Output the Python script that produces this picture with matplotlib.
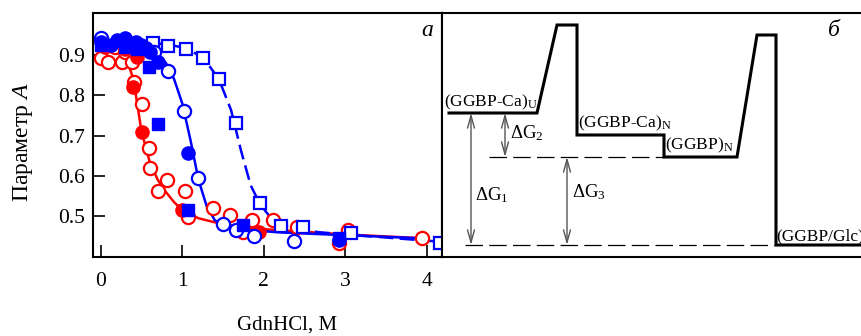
import matplotlib
matplotlib.use("Agg")
import matplotlib.pyplot as plt
import numpy as np

plt.rcParams['font.family'] = ['Liberation Serif', 'DejaVu Serif']
plt.rcParams['mathtext.fontset'] = 'custom'
plt.rcParams['mathtext.rm'] = 'Liberation Serif'
plt.rcParams['mathtext.it'] = 'Liberation Serif:italic'

RED = '#ff0000'
BLUE = '#0000ff'

# ================= panel a: denaturation curves =======================
# red, open circles
red_open_x = [0.0, 0.09, 0.18, 0.26, 0.30, 0.38, 0.41, 0.50, 0.59, 0.61, 0.70, 0.81, 1.03, 1.07,
              1.38, 1.59, 1.74, 1.86, 2.12, 2.41, 2.92, 3.04, 3.95]
red_open_y = [0.893, 0.883, 0.92, 0.883, 0.907, 0.883, 0.833, 0.778, 0.669, 0.619, 0.562, 0.589,
              0.562, 0.498, 0.52, 0.502, 0.46, 0.49, 0.49, 0.473, 0.433, 0.465, 0.445]
# red, filled circles
red_fill_x = [0.05, 0.30, 0.45, 0.40, 0.50, 1.00, 1.94]
red_fill_y = [0.92, 0.915, 0.895, 0.82, 0.709, 0.515, 0.46]
# red fit
red_line_x = [0.0, 0.2, 0.3, 0.4, 0.5, 0.6, 0.7, 0.8, 0.9, 1.0, 1.2, 1.5, 2.0, 3.0, 4.0]
red_line_y = [0.92, 0.915, 0.9, 0.84, 0.71, 0.635, 0.59, 0.56, 0.535, 0.515, 0.495, 0.48,
              0.468, 0.455, 0.445]

# blue, open circles
blue_open_x = [0.0, 0.65, 0.83, 1.02, 1.19, 1.50, 1.66, 1.88, 2.37]
blue_open_y = [0.942, 0.907, 0.86, 0.761, 0.594, 0.48, 0.465, 0.45, 0.438]
# blue, filled circles
blue_fill_x = [0.0, 0.12, 0.20, 0.30, 0.34, 0.43, 0.49, 0.55, 0.61, 0.70, 1.07, 2.92]
blue_fill_y = [0.932, 0.925, 0.937, 0.942, 0.93, 0.932, 0.925, 0.917, 0.907, 0.883, 0.657, 0.44]
# blue fit (solid)
blue_line_x = [0.0, 0.3, 0.6, 0.8, 0.9, 1.0, 1.1, 1.2, 1.3, 1.4, 1.55, 1.8, 2.2, 3.0, 4.0]
blue_line_y = [0.935, 0.932, 0.92, 0.88, 0.84, 0.78, 0.69, 0.59, 0.525, 0.49, 0.474, 0.466,
               0.46, 0.453, 0.445]

# blue, filled squares
blue_sq_fill_x = [0.0, 0.30, 0.45, 0.59, 0.70, 1.07, 1.75, 2.92]
blue_sq_fill_y = [0.925, 0.92, 0.915, 0.87, 0.729, 0.515, 0.478, 0.445]
# blue, open squares
blue_sq_open_x = [0.64, 0.83, 1.04, 1.26, 1.45, 1.66, 1.95, 2.21, 2.48, 3.07, 4.16]
blue_sq_open_y = [0.93, 0.922, 0.915, 0.893, 0.84, 0.731, 0.532, 0.475, 0.473, 0.458, 0.433]
# blue fit (dashed)
blue_dash_x = [0.64, 0.85, 1.04, 1.26, 1.45, 1.60, 1.72, 1.84, 1.95, 2.09, 2.33, 2.7, 3.2, 4.16]
blue_dash_y = [0.93, 0.925, 0.917, 0.893, 0.84, 0.763, 0.664, 0.577, 0.532, 0.495, 0.47,
               0.46, 0.452, 0.437]

# ================= panel b: energy diagram (schematic units) =======================
path_x = [7, 95, 115, 135, 135, 222, 222, 295, 315, 334, 334, 430]
path_y = [144, 144, 232, 232, 122, 122, 100, 100, 222, 222, 12, 12]
dash_levels = [(47, 222, 100), (23, 334, 12)]
arrows = [(29, 144, 12), (63, 144, 100), (125, 100, 12)]
level_labels = [(2, 145, '(GGBP-Ca)$_\\mathregular{U}$'),
                (136, 124, '(GGBP-Ca)$_\\mathregular{N}$'),
                (223, 102, '(GGBP)$_\\mathregular{N}$'),
                (334, 13, '(GGBP/Glc)')]
dg_labels = [(33, 62, '\u0394G$_\\mathregular{1}$'),
             (68, 124, '\u0394G$_\\mathregular{2}$'),
             (130, 65, '\u0394G$_\\mathregular{3}$')]

fig = plt.figure(figsize=(8.61, 3.36), dpi=100)
W, H = 861.0, 336.0
ax = fig.add_axes([93 / W, (H - 257) / H, (442 - 93) / W, (257 - 13) / H])
ax2 = fig.add_axes([442 / W, (H - 257) / H, (861 - 442) / W, (257 - 13) / H])

lw_fit = 1.8
ax.plot(red_line_x, red_line_y, color=RED, lw=lw_fit, zorder=2)
ax.plot(blue_line_x, blue_line_y, color=BLUE, lw=lw_fit, zorder=2)
ax.plot(blue_dash_x, blue_dash_y, color=BLUE, lw=lw_fit, dashes=(6, 2.5), zorder=2)

ms_c = 9.5
ms_s = 8.5
ax.plot(red_open_x, red_open_y, 'o', ms=ms_c, mfc='white', mec=RED, mew=1.6, ls='None', zorder=3)
ax.plot(red_fill_x, red_fill_y, 'o', ms=ms_c, mfc=RED, mec=RED, ls='None', zorder=3)
ax.plot(blue_sq_open_x, blue_sq_open_y, 's', ms=ms_s, mfc='white', mec=BLUE, mew=1.6, ls='None', zorder=3)
ax.plot(blue_open_x, blue_open_y, 'o', ms=ms_c, mfc='white', mec=BLUE, mew=1.6, ls='None', zorder=3)
ax.plot(blue_fill_x, blue_fill_y, 'o', ms=ms_c, mfc=BLUE, mec=BLUE, ls='None', zorder=4)
ax.plot(blue_sq_fill_x, blue_sq_fill_y, 's', ms=ms_s, mfc=BLUE, mec=BLUE, ls='None', zorder=4)

ax.set_xlim(-0.096, 4.19)
ax.set_ylim(0.399, 1.004)
ax.set_xticks([0, 1, 2, 3, 4])
ax.set_yticks([0.5, 0.6, 0.7, 0.8, 0.9])
ax.set_yticklabels(['0.5', '0.6', '0.7', '0.8', '0.9'])
ax.tick_params(direction='in', length=8.5, width=1.2, labelsize=15.5)
ax.tick_params(axis='x', pad=11)
ax.tick_params(axis='y', pad=6)
ax.tick_params(top=False, right=False)
for s in ax.spines.values():
    s.set_linewidth(1.5)
ax.set_xlabel('GdnHCl, M', fontsize=15, va='center', ha='center')
ax.xaxis.set_label_coords(287 / W, 1 - 325 / H, transform=fig.transFigure)
ax.set_ylabel('Параметр $\\mathit{A}$', fontsize=17, va='center', ha='center')
ax.yaxis.set_label_coords(23 / W, 1 - 142 / H, transform=fig.transFigure)
ax.text(0.975, 0.93, 'а', transform=ax.transAxes, fontsize=17, style='italic', ha='right', va='center')

# energy diagram
ax2.plot(path_x, path_y, color='black', lw=2.2, solid_joinstyle='miter', clip_on=True)
for x0, x1, y in dash_levels:
    ax2.plot([x0, x1], [y, y], color='black', lw=0.9, dashes=(14, 5))
for x, y0, y1 in arrows:
    ax2.annotate('', xy=(x, y1), xytext=(x, y0),
                 arrowprops=dict(arrowstyle='<->,head_length=0.9,head_width=0.25', color='#555555',
                                 lw=1.0, shrinkA=0, shrinkB=0))
for x, y, t in level_labels:
    ax2.text(x, y, t, fontsize=12.5, ha='left', va='bottom')
for x, y, t in dg_labels:
    ax2.text(x, y, t, fontsize=13.5, ha='left', va='center')
ax2.text(0.95, 0.93, 'б', transform=ax2.transAxes, fontsize=17, style='italic', ha='right', va='center')
ax2.set_xlim(0, 419)
ax2.set_ylim(0, 244)
ax2.set_xticks([])
ax2.set_yticks([])
ax2.spines['right'].set_visible(False)
for s in ['top', 'bottom', 'left']:
    ax2.spines[s].set_linewidth(1.5)

fig.savefig('out.png', dpi=100)
